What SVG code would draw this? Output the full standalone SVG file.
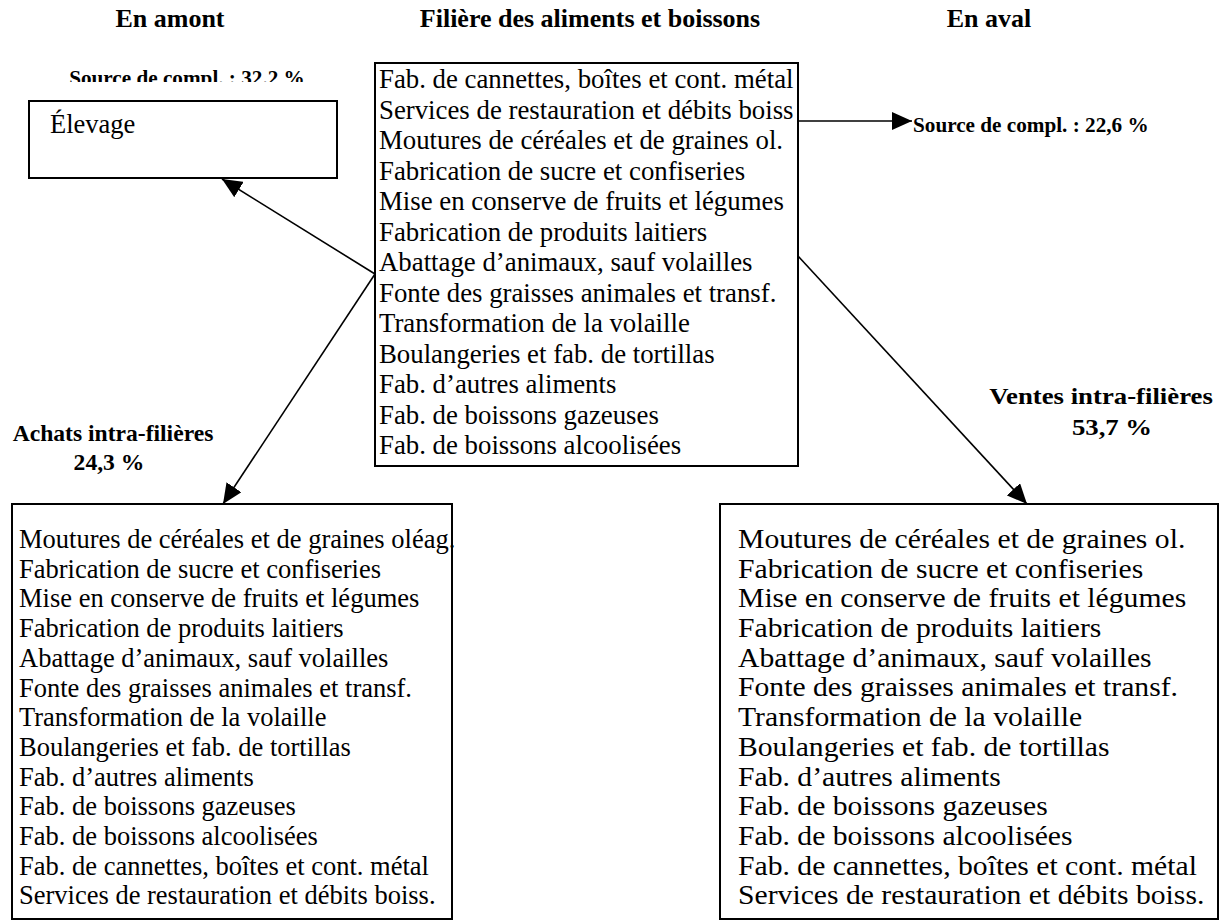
<svg xmlns="http://www.w3.org/2000/svg" width="1226" height="924" viewBox="0 0 1226 924">
<style>
.hd{font-family:"Liberation Serif","Times New Roman",serif;font-weight:bold;font-size:26px;fill:#000}
.src{font-family:"Liberation Serif","Times New Roman",serif;font-weight:bold;font-size:21.2px;fill:#000}
.lab{font-family:"Liberation Serif","Times New Roman",serif;font-weight:bold;font-size:23.6px;fill:#000}
.bx{fill:#fff;stroke:#000;stroke-width:2}
.t{font-family:"Liberation Serif","Times New Roman",serif;font-size:26.5px;fill:#000}
.tc{font-family:"Liberation Serif","Times New Roman",serif;font-size:26.8px;fill:#000}
.ln{stroke:#000;stroke-width:1.6;fill:none}
</style>
<defs>
<marker id="arr" viewBox="0 0 20 18" refX="20" refY="9" markerWidth="20" markerHeight="18" orient="auto" markerUnits="userSpaceOnUse">
<path d="M0,0 L20,9 L0,18 Z" fill="#000"/>
</marker>
<clipPath id="clipSrc"><rect x="0" y="0" width="400" height="82"/></clipPath>
</defs>
<rect width="1226" height="924" fill="#fff"/>

<g id="headers">
<text class="hd" x="170" y="27" text-anchor="middle">En amont</text>
<text class="hd" x="590" y="27" text-anchor="middle">Filière des aliments et boissons</text>
<text class="hd" x="989" y="27" text-anchor="middle">En aval</text>
</g>

<g id="labels">
<text class="src" x="187" y="85" text-anchor="middle" clip-path="url(#clipSrc)">Source de compl. : 32.2 %</text>
<text class="src" x="913" y="132">Source de compl. : 22,6 %</text>
<text class="lab" x="113" y="441" text-anchor="middle">Achats intra-filières</text>
<text class="lab" x="109" y="470" text-anchor="middle">24,3 %</text>
<g transform="translate(1101,0) scale(1.134,1)"><text class="lab" x="0" y="404" text-anchor="middle">Ventes intra-filières</text></g>
<g transform="translate(1112,0) scale(1.134,1)"><text class="lab" x="0" y="435" text-anchor="middle">53,7 %</text></g>
</g>

<g id="connectors">
<line class="ln" x1="375" y1="274" x2="222" y2="179" marker-end="url(#arr)"/>
<line class="ln" x1="375" y1="274" x2="223" y2="504" marker-end="url(#arr)"/>
<line class="ln" x1="798" y1="121" x2="912" y2="121" marker-end="url(#arr)"/>
<line class="ln" x1="798" y1="256" x2="1027" y2="504" marker-end="url(#arr)"/>
</g>

<g id="elevage">
<rect class="bx" x="29" y="101" width="308" height="77"/>
<text class="t" x="50" y="133">Élevage</text>
</g>

<g id="filiere">
<rect class="bx" x="375" y="63" width="423" height="403"/>
<text class="tc">
<tspan x="379" y="88">Fab. de cannettes, boîtes et cont. métal</tspan>
<tspan x="379" y="118.5">Services de restauration et débits boiss</tspan>
<tspan x="379" y="149">Moutures de céréales et de graines ol.</tspan>
<tspan x="379" y="179.5">Fabrication de sucre et confiseries</tspan>
<tspan x="379" y="210">Mise en conserve de fruits et légumes</tspan>
<tspan x="379" y="240.5">Fabrication de produits laitiers</tspan>
<tspan x="379" y="271">Abattage d’animaux, sauf volailles</tspan>
<tspan x="379" y="301.5">Fonte des graisses animales et transf.</tspan>
<tspan x="379" y="332">Transformation de la volaille</tspan>
<tspan x="379" y="362.5">Boulangeries et fab. de tortillas</tspan>
<tspan x="379" y="393">Fab. d’autres aliments</tspan>
<tspan x="379" y="423.5">Fab. de boissons gazeuses</tspan>
<tspan x="379" y="454">Fab. de boissons alcoolisées</tspan>
</text>
</g>

<g id="achats">
<rect class="bx" x="12" y="504" width="440" height="415"/>
<text class="t">
<tspan x="19" y="548">Moutures de céréales et de graines oléag.</tspan>
<tspan x="19" y="577.7">Fabrication de sucre et confiseries</tspan>
<tspan x="19" y="607.4">Mise en conserve de fruits et légumes</tspan>
<tspan x="19" y="637.1">Fabrication de produits laitiers</tspan>
<tspan x="19" y="666.8">Abattage d’animaux, sauf volailles</tspan>
<tspan x="19" y="696.5">Fonte des graisses animales et transf.</tspan>
<tspan x="19" y="726.2">Transformation de la volaille</tspan>
<tspan x="19" y="755.9">Boulangeries et fab. de tortillas</tspan>
<tspan x="19" y="785.6">Fab. d’autres aliments</tspan>
<tspan x="19" y="815.3">Fab. de boissons gazeuses</tspan>
<tspan x="19" y="845">Fab. de boissons alcoolisées</tspan>
<tspan x="19" y="874.7">Fab. de cannettes, boîtes et cont. métal</tspan>
<tspan x="19" y="904.4">Services de restauration et débits boiss.</tspan>
</text>
</g>

<g id="ventes">
<rect class="bx" x="720" y="504" width="498" height="415"/>
<g transform="translate(738,0) scale(1.12,1)">
<text class="t">
<tspan x="0" y="548">Moutures de céréales et de graines ol.</tspan>
<tspan x="0" y="577.7">Fabrication de sucre et confiseries</tspan>
<tspan x="0" y="607.4">Mise en conserve de fruits et légumes</tspan>
<tspan x="0" y="637.1">Fabrication de produits laitiers</tspan>
<tspan x="0" y="666.8">Abattage d’animaux, sauf volailles</tspan>
<tspan x="0" y="696.5">Fonte des graisses animales et transf.</tspan>
<tspan x="0" y="726.2">Transformation de la volaille</tspan>
<tspan x="0" y="755.9">Boulangeries et fab. de tortillas</tspan>
<tspan x="0" y="785.6">Fab. d’autres aliments</tspan>
<tspan x="0" y="815.3">Fab. de boissons gazeuses</tspan>
<tspan x="0" y="845">Fab. de boissons alcoolisées</tspan>
<tspan x="0" y="874.7">Fab. de cannettes, boîtes et cont. métal</tspan>
<tspan x="0" y="904.4">Services de restauration et débits boiss.</tspan>
</text>
</g>
</g>
</svg>
